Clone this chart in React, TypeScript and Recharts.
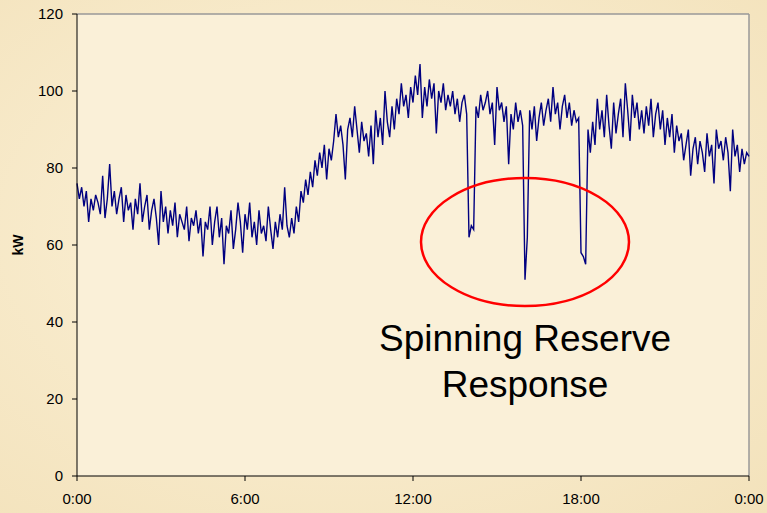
import React from "react";
import {
  CartesianGrid,
  Line,
  LineChart,
  ReferenceLine,
  XAxis,
  YAxis,
} from "recharts";

// 5-minute load readings (kW)
const load00to06 = [
  76, 72, 75, 70, 74, 66, 72, 69, 73, 71, 68, 78,
  67, 72, 81, 70, 74, 68, 72, 75, 66, 73, 69, 71,
  64, 72, 68, 76, 66, 70, 73, 64, 69, 72, 67, 60,
  74, 66, 70, 63, 69, 65, 71, 62, 68, 66, 64, 70,
  61, 67, 65, 69, 63, 67, 57, 66, 64, 70, 60, 66,
  70, 62, 67, 55, 65, 63, 69, 59, 64, 71, 66, 58,
];
const load06to12 = [
  68, 64, 71, 62, 66, 60, 69, 63, 65, 61, 70, 64,
  59, 66, 62, 68, 64, 75, 65, 62, 67, 63, 70, 66,
  74, 71, 77, 73, 79, 75, 82, 78, 84, 80, 86, 77,
  85, 82, 87, 94, 88, 91, 86, 77, 90, 93, 88, 96,
  90, 84, 92, 87, 89, 83, 91, 81, 95, 88, 93, 86,
  100, 92, 88, 96, 90, 98, 94, 102, 96, 99, 93, 101,
];
const load12to18 = [
  97, 104, 99, 107, 93, 101, 96, 103, 98, 102, 89, 100,
  97, 102, 95, 99, 96, 100, 94, 98, 92, 97, 99, 94,
  62, 65, 64, 96, 93, 99, 95, 97, 100, 94, 97, 86,
  101, 95, 97, 92, 96, 81, 94, 90, 97, 92, 95, 91,
  51, 62, 95, 90, 96, 87, 93, 97, 91, 95, 98, 92,
  101, 94, 97, 90, 96, 99, 93, 97, 91, 95, 92, 93,
];
const load18to24 = [
  58, 57, 55, 90, 84, 92, 86, 98, 90, 95, 88, 99,
  91, 85, 97, 89, 94, 98, 88, 102, 95, 87, 99, 93,
  97, 90, 95, 89, 96, 91, 98, 88, 94, 97, 90, 95,
  86, 93, 88, 94, 84, 91, 87, 89, 82, 86, 90, 78,
  85, 88, 81, 87, 84, 79, 89, 83, 86, 76, 90, 85,
  87, 82, 88, 84, 74, 90, 83, 86, 79, 85, 81, 84,
  83,
];

const xTicks = [0, 360, 720, 1080, 1440];
const yTicks = [0, 20, 40, 60, 80, 100, 120];

const data = [...load00to06, ...load06to12, ...load12to18, ...load18to24].map(
  (kw, i) => ({ minute: i * 5, kw })
);

const fmtTime = (m: number) => `${Math.floor(m / 60) % 24}:00`;

const font = "'Liberation Sans', Arial, sans-serif";
const tickStyle = { fontSize: 15, fill: "#000", fontFamily: font };

export default function App() {
  return (
    <div
      style={{
        position: "absolute",
        left: 0,
        top: 0,
        width: 767,
        height: 513,
        background:
          "radial-gradient(ellipse at 45% 45%, #fbf1da 0%, #f8ebcc 45%, #f3e2bb 100%)",
        overflow: "hidden",
      }}
    >
      <LineChart
        width={767}
        height={513}
        data={data}
        margin={{ top: 14, right: 18, bottom: 7, left: 0 }}
      >
        <CartesianGrid horizontal={false} vertical={false} fill="#faf0d8" />
        <XAxis
          dataKey="minute"
          type="number"
          domain={[0, 1440]}
          ticks={xTicks}
          tickFormatter={fmtTime}
          height={30}
          stroke="#000"
          tickSize={5}
          tickMargin={12}
          tick={tickStyle}
        />
        <YAxis
          domain={[0, 120]}
          ticks={yTicks}
          width={77}
          stroke="#000"
          tickSize={5}
          tickMargin={9}
          tick={tickStyle}
        />
        <ReferenceLine y={120} stroke="#999" strokeWidth={1.5} />
        <ReferenceLine x={1440} stroke="#999" strokeWidth={1.5} />
        <Line
          type="linear"
          dataKey="kw"
          stroke="#000080"
          strokeWidth={1.4}
          dot={false}
          isAnimationActive={false}
        />
      </LineChart>
      <svg
        width={767}
        height={513}
        style={{ position: "absolute", left: 0, top: 0, pointerEvents: "none" }}
      >
        <text
          x={18}
          y={245}
          transform="rotate(-90 18 245)"
          textAnchor="middle"
          dominantBaseline="central"
          fontFamily={font}
          fontWeight="bold"
          fontSize={14}
        >
          kW
        </text>
        <ellipse cx={525} cy={242} rx={104} ry={64} fill="none" stroke="#ff0000" strokeWidth={2.5} />
        <text x={525} y={351} textAnchor="middle" fontFamily={font} fontSize={37} fill="#000">
          Spinning Reserve
        </text>
        <text x={525} y={397} textAnchor="middle" fontFamily={font} fontSize={37} fill="#000">
          Response
        </text>
      </svg>
    </div>
  );
}
